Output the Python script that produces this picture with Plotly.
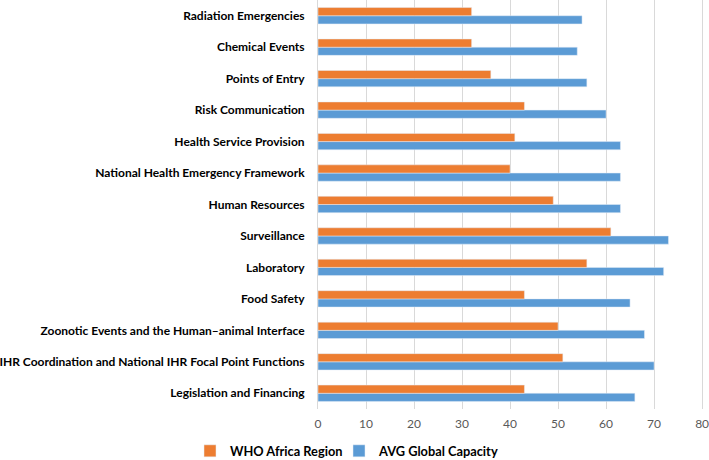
import plotly.graph_objects as go

categories = [
    "Legislation and Financing",
    "IHR Coordination and National IHR Focal Point Functions",
    "Zoonotic Events and the Human\u2013animal Interface",
    "Food Safety",
    "Laboratory",
    "Surveillance",
    "Human Resources",
    "National Health Emergency Framework",
    "Health Service Provision",
    "Risk Communication",
    "Points of Entry",
    "Chemical Events",
    "Radiation Emergencies",
]
who_africa = [43, 51, 50, 43, 56, 61, 49, 40, 41, 43, 36, 32, 32]
avg_global = [66, 70, 68, 65, 72, 73, 63, 63, 63, 60, 56, 54, 55]
x_ticks = [0, 10, 20, 30, 40, 50, 60, 70, 80]

FONT = "Lato, 'Open Sans', sans-serif"
W, H = 709, 460
LEGEND_FONT = dict(size=12.8, color="#000000", family=FONT, weight="bold")
CLEAR = "rgba(0,0,0,0)"

fig = go.Figure()
fig.add_trace(go.Bar(
    y=categories, x=avg_global, orientation="h", name="AVG Global Capacity",
    marker=dict(color="#5B9BD5"), legend="legend2",
))
fig.add_trace(go.Bar(
    y=categories, x=who_africa, orientation="h", name="WHO Africa Region",
    marker=dict(color="#ED7D31"), legend="legend",
))

fig.update_layout(
    width=W, height=H,
    margin=dict(l=318, r=5, t=0, b=51, autoexpand=False),
    barmode="group", bargap=0.48, bargroupgap=0,
    plot_bgcolor="white", paper_bgcolor="white",
    font=dict(family=FONT, color="#000000"),
    showlegend=True,
    legend=dict(
        orientation="h", xref="container", yref="container",
        x=(230 - 40) / W, y=1 - 451 / H, xanchor="left", yanchor="middle",
        font=LEGEND_FONT, itemwidth=30, bgcolor=CLEAR,
    ),
    legend2=dict(
        orientation="h", xref="container", yref="container",
        x=(379 - 40) / W, y=1 - 451 / H, xanchor="left", yanchor="middle",
        font=LEGEND_FONT, itemwidth=30, bgcolor=CLEAR,
    ),
    xaxis=dict(
        range=[0, 80.4], tickvals=x_ticks, showgrid=True, gridcolor="#D9D9D9",
        gridwidth=1, zeroline=False, showline=False, automargin=False,
        tickfont=dict(size=12, color="#595959", family=FONT),
        ticks="", ticklabelstandoff=6, ticklabeloverflow="allow",
        fixedrange=True,
    ),
    yaxis=dict(
        categoryorder="array", categoryarray=categories, automargin=False,
        showline=True, linecolor="#D9D9D9", linewidth=1,
        ticks="", ticklabelstandoff=10, fixedrange=True,
        tickfont=dict(size=12, color="#000000", family=FONT, weight="bold"),
    ),
)

fig.write_html(
    "out.html",
    config={"displayModeBar": False, "staticPlot": True},
    post_script="document.body.style.margin='0';document.body.style.padding='0';",
)
